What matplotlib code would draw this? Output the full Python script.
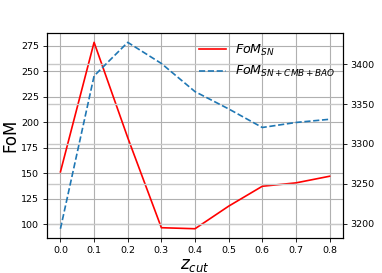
import matplotlib
matplotlib.use("Agg")
import matplotlib.pyplot as plt

z_cut = [0.0, 0.1, 0.2, 0.3, 0.4, 0.5, 0.6, 0.7, 0.8]
fom_sn = [151.5, 278.3, 185.0, 96.8, 95.8, 117.9, 137.4, 140.7, 147.2]
fom_all = [3193.7, 3385.4, 3427.5, 3401.0, 3365.7, 3344.0, 3320.7, 3327.0, 3331.0]

fig = plt.figure(figsize=(3.82, 2.73), dpi=100)
ax1 = fig.add_axes([0.123, 0.128, 0.775, 0.751])
ax2 = ax1.twinx()

l1, = ax1.plot(z_cut, fom_sn, color='red', lw=1.2, label=r'$FoM_{SN}$')
l2, = ax2.plot(z_cut, fom_all, color='#1f77b4', lw=1.2, ls='--', label=r'$FoM_{SN+CMB+BAO}$')

ax1.grid(True, color='#b0b0b0', lw=0.8)
ax2.grid(True, color='#c8c8c8', lw=1.0)

ax1.set_xticks(z_cut)
ax1.set_yticks([100, 125, 150, 175, 200, 225, 250, 275])
ax2.set_yticks([3200, 3250, 3300, 3350, 3400])
for ax in (ax1, ax2):
    ax.tick_params(labelsize=6.8, length=3, width=0.6, pad=2.5)
    for s in ax.spines.values():
        s.set_linewidth(0.8)

ax1.set_ylabel('FoM', fontsize=12, labelpad=1.5)
ax1.set_xlabel(r'$z_{cut}$', fontsize=12, labelpad=1)

leg = ax2.legend(handles=[l1, l2], loc='upper right', fontsize=9.1, frameon=False,
                 bbox_to_anchor=(1.0, 0.99), handlelength=2.1, handletextpad=0.75,
                 labelspacing=0.5, borderaxespad=0.2)

fig.savefig('out.png', dpi=100)
